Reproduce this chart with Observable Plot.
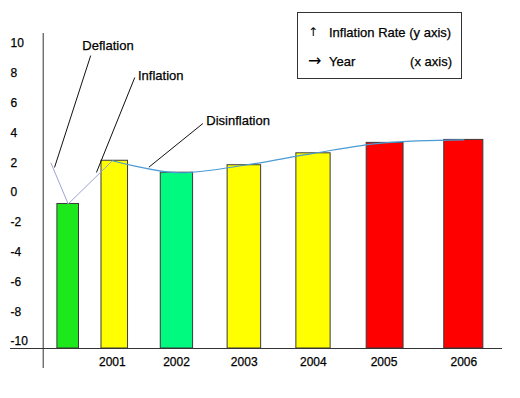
<!DOCTYPE html>
<html>
<head>
<meta charset="utf-8">
<script src="https://cdn.jsdelivr.net/npm/d3@7"></script>
<script src="https://cdn.jsdelivr.net/npm/@observablehq/plot@0.6"></script>
<style>
  body { margin: 0; background: #fff; font-family: "Liberation Sans", Arial, sans-serif; }
  #wrap { position: relative; width: 520px; height: 398px; }
  #legend { position: absolute; left: 297px; top: 12px; width: 165px; height: 67px; border: 1px solid #333; box-sizing: border-box; font-size: 13px; color: #000; background: #fff; -webkit-text-stroke: 0.25px #000; }
  #legend span { position: absolute; line-height: 1; white-space: nowrap; }
  #legend span.arrow { font-family: "DejaVu Sans", sans-serif; -webkit-text-stroke: 0; }
</style>
</head>
<body>
<div id="wrap"></div>
<script>
// ---- data ----
const years = [2000, 2001, 2002, 2003, 2004, 2005, 2006];
const yearLabels = ["", "2001", "2002", "2003", "2004", "2005", "2006"];
const inflation = [-0.3, 2.6, 1.8, 2.3, 3.1, 3.8, 4.0];
const phases = ["deflation", "inflation", "disinflation", "inflation", "inflation", "high", "high"];
const yTicks = [10, 8, 6, 4, 2, 0, -2, -4, -6, -8, -10];
const leadInYear = 1999.61;
const leadInValue = 2.44;
const annotationText = ["Deflation", "Inflation", "Disinflation"];
const annotationTextYear = [2000.32, 2001.40, 2002.44];
const annotationTextValue = [10.34, 8.32, 5.30];
const annotationStartYear = [2000.51, 2001.35, 2002.39];
const annotationStartValue = [9.66, 8.19, 5.10];
const annotationTipYear = [1999.69, 2000.64, 2001.57];
const annotationTipValue = [2.15, 1.81, 2.17];
const legendArrows = ["\u2191", "\u2192"];
const legendLabels = ["Inflation Rate (y axis)", "Year"];
const legendNotes = ["", "(x axis)"];

// ---- tables ----
const rows = years.map((year, i) => ({year, label: yearLabels[i], value: inflation[i], phase: phases[i]}));
const leadIn = [{year: leadInYear, value: leadInValue}, rows[0], rows[1]];
const notes = annotationText.map((text, i) => ({
  text,
  tx: annotationTextYear[i], ty: annotationTextValue[i],
  sx: annotationStartYear[i], sy: annotationStartValue[i],
  ex: annotationTipYear[i], ey: annotationTipValue[i]
}));
const hw = 0.245;
const font = '"Liberation Sans", Arial, sans-serif';
const textStyle = {fill: "#000", stroke: "#000", strokeWidth: 0.25};

const chart = Plot.plot({
  width: 520,
  height: 398,
  marginLeft: 10,
  marginRight: 18,
  marginTop: 33,
  marginBottom: 30,
  style: {fontFamily: font, background: "transparent", overflow: "visible"},
  x: {type: "linear", domain: years, range: [67.7, 111.8, 176, 243.7, 312.8, 383.5, 463.3], axis: null},
  y: {domain: [-10, 10], range: [348, 50], axis: null},
  color: {domain: ["deflation", "inflation", "disinflation", "high"], range: ["#1ce81c", "#ffff00", "#00fa80", "#ff0000"]},
  marks: [
    Plot.rect(rows, {x1: d => d.year - hw, x2: d => d.year + hw, y1: -10, y2: "value", fill: "phase", stroke: "#3a3a3a", strokeWidth: 1}),
    Plot.ruleY([-10], {stroke: "#333", strokeWidth: 1}),
    Plot.ruleX([years[0]], {dx: -25, stroke: "#333", strokeWidth: 1}),
    Plot.text(yTicks, {y: d => d, text: d => String(d), frameAnchor: "left", textAnchor: "start", lineAnchor: "middle", dy: -7, fontSize: 12, ...textStyle}),
    Plot.text(rows.filter(d => d.label), {x: "year", text: "label", frameAnchor: "bottom", lineAnchor: "middle", dy: -6, fontSize: 12, ...textStyle}),
    Plot.line(leadIn, {x: "year", y: "value", stroke: "#9ea2d4", strokeWidth: 1}),
    Plot.line(rows.slice(1), {x: "year", y: "value", curve: "catmull-rom", stroke: "#4a9ad4", strokeWidth: 1.2}),
    Plot.link(notes, {x1: "sx", y1: "sy", x2: "ex", y2: "ey", stroke: "#111", strokeWidth: 1}),
    Plot.text(notes, {x: "tx", y: "ty", text: "text", textAnchor: "start", lineAnchor: "middle", fontSize: 13, ...textStyle})
  ]
});

const wrap = document.getElementById("wrap");
wrap.appendChild(chart);

// legend box
const legend = document.createElement("div");
legend.id = "legend";
const rowTops = [13, 42];
const arrowSizes = [12, 16];
const arrowTops = [13, 40];
legendArrows.forEach((a, i) => {
  const s1 = document.createElement("span");
  s1.className = "arrow";
  s1.textContent = a;
  s1.style.fontSize = arrowSizes[i] + "px";
  s1.style.left = "10px"; s1.style.top = arrowTops[i] + "px";
  legend.appendChild(s1);
  const s2 = document.createElement("span");
  s2.textContent = legendLabels[i];
  s2.style.left = "31px"; s2.style.top = rowTops[i] + "px";
  legend.appendChild(s2);
  if (legendNotes[i]) {
    const s3 = document.createElement("span");
    s3.textContent = legendNotes[i];
    s3.style.right = "9px"; s3.style.top = rowTops[i] + "px";
    legend.appendChild(s3);
  }
});
wrap.appendChild(legend);
</script>
</body>
</html>
